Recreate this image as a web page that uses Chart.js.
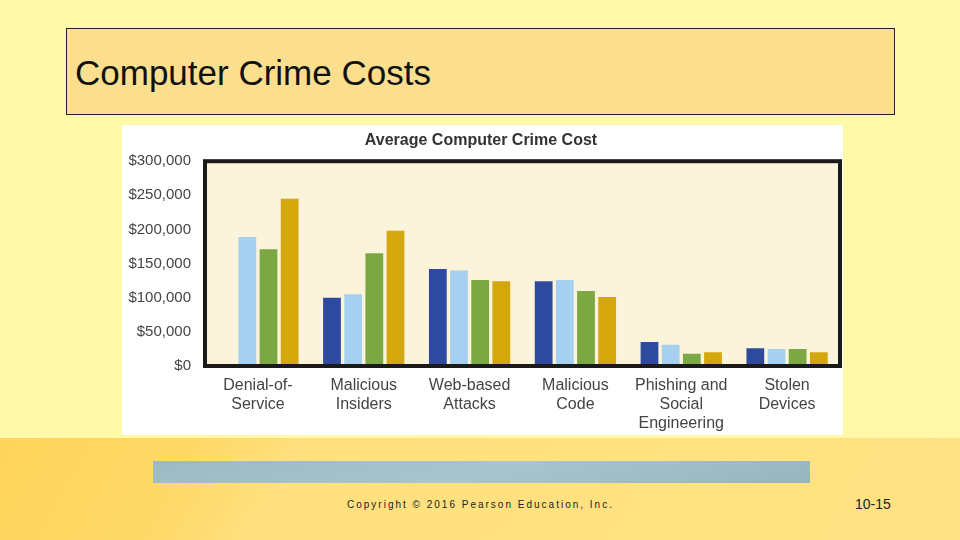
<!DOCTYPE html>
<html>
<head>
<meta charset="utf-8">
<script src="https://cdn.jsdelivr.net/npm/chart.js@4"></script>
<style>
  body { margin:0; width:960px; height:540px; overflow:hidden; position:relative;
         background:#FFF9A8; font-family:'Liberation Sans', Arial, sans-serif; }
  #band { position:absolute; left:0; top:438px; width:960px; height:102px;
          background:linear-gradient(120deg,#FFD45A 0%,#FFD968 20%,#FFE07E 30%,#FFE283 100%); }
  #titlebox { position:absolute; left:66px; top:28px; width:827px; height:85px;
              background:#FBDF8F; border:1.5px solid #222; }
  #titlebox span { position:absolute; left:8px; top:24px; font-size:35px; color:#111; }
  #strip { position:absolute; left:153px; top:461px; width:657px; height:22px;
           background:linear-gradient(165deg,#9DB9C4 0%,#A8C4CE 50%,#98B4C0 100%); }
  #copy { position:absolute; left:347px; top:499px; font-size:10px; letter-spacing:2px; color:#222; }
  #page { position:absolute; left:855px; top:496px; font-size:14px; color:#222; }
  #wrap { position:absolute; left:122px; top:125px; width:721px; height:310px; background:#fff; }
</style>
</head>
<body>
<div id="band"></div>
<div id="titlebox"><span>Computer Crime Costs</span></div>
<div id="strip"></div>
<div id="copy">Copyright © 2016 Pearson Education, Inc.</div>
<div id="page">10-15</div>
<div id="wrap"><canvas id="c" width="721" height="310"></canvas></div>
<script>
// ── DATA ─────────────────────────────────────
const categories = [['Denial-of-','Service'],['Malicious','Insiders'],['Web-based','Attacks'],['Malicious','Code'],['Phishing and','Social','Engineering'],['Stolen','Devices']];
const series1 = [0, 100000, 142000, 124000, 35000, 26000];
const series2 = [189000, 105000, 140000, 126000, 31000, 25000];
const series3 = [171000, 165000, 126000, 110000, 18000, 25000];
const series4 = [245000, 198000, 124000, 101000, 20000, 20000];
const colors = ['#2E4A9E', '#A5D0F0', '#7BA843', '#D4A80C'];

const FONT = "'Liberation Sans Narrow', 'Liberation Sans', Arial, sans-serif";

// plot background + thick frame
const frame = {
  id: 'frame',
  beforeDatasetsDraw(chart) {
    const { ctx, chartArea: a } = chart;
    ctx.save();
    ctx.fillStyle = '#FBF3DA';
    ctx.fillRect(a.left, a.top, a.right - a.left, a.bottom - a.top);
    ctx.restore();
  },
  afterDatasetsDraw(chart) {
    const { ctx, chartArea: a } = chart;
    ctx.save();
    ctx.strokeStyle = '#1a1a1a';
    ctx.lineWidth = 4;
    ctx.strokeRect(a.left, a.top, a.right - a.left, a.bottom - a.top);
    ctx.restore();
  },
};

new Chart(document.getElementById('c'), {
  type: 'bar',
  data: {
    labels: categories,
    datasets: [series1, series2, series3, series4].map((d, i) => ({
      label: 'S' + (i + 1), data: d, backgroundColor: colors[i],
    })),
  },
  options: {
    responsive: false, animation: false,
    layout: { padding: { top: 0, right: 3, left: 0, bottom: 0 } },
    datasets: { bar: { categoryPercentage: 0.8, barPercentage: 0.84 } },
    scales: {
      x: {
        afterFit(s) { s.height = 69; },
        grid: { display: false }, border: { display: false },
        ticks: { color: '#444', font: { family: FONT, size: 16 }, maxRotation: 0, padding: 2 },
      },
      y: {
        min: 0, max: 300000,
        afterFit(s) { s.width = 83; },
        grid: { display: false }, border: { display: false },
        ticks: { stepSize: 50000, color: '#444', padding: 6,
                 font: { family: FONT, size: 15 },
                 callback: v => '$' + v.toLocaleString('en-US') },
      },
    },
    plugins: {
      legend: { display: false }, tooltip: { enabled: false },
      title: { display: true, text: 'Average Computer Crime Cost', color: '#333',
               font: { family: FONT, size: 16, weight: 'bold' }, padding: { top: 6, bottom: 11 } },
    },
  },
  plugins: [frame],
});
</script>
</body>
</html>
